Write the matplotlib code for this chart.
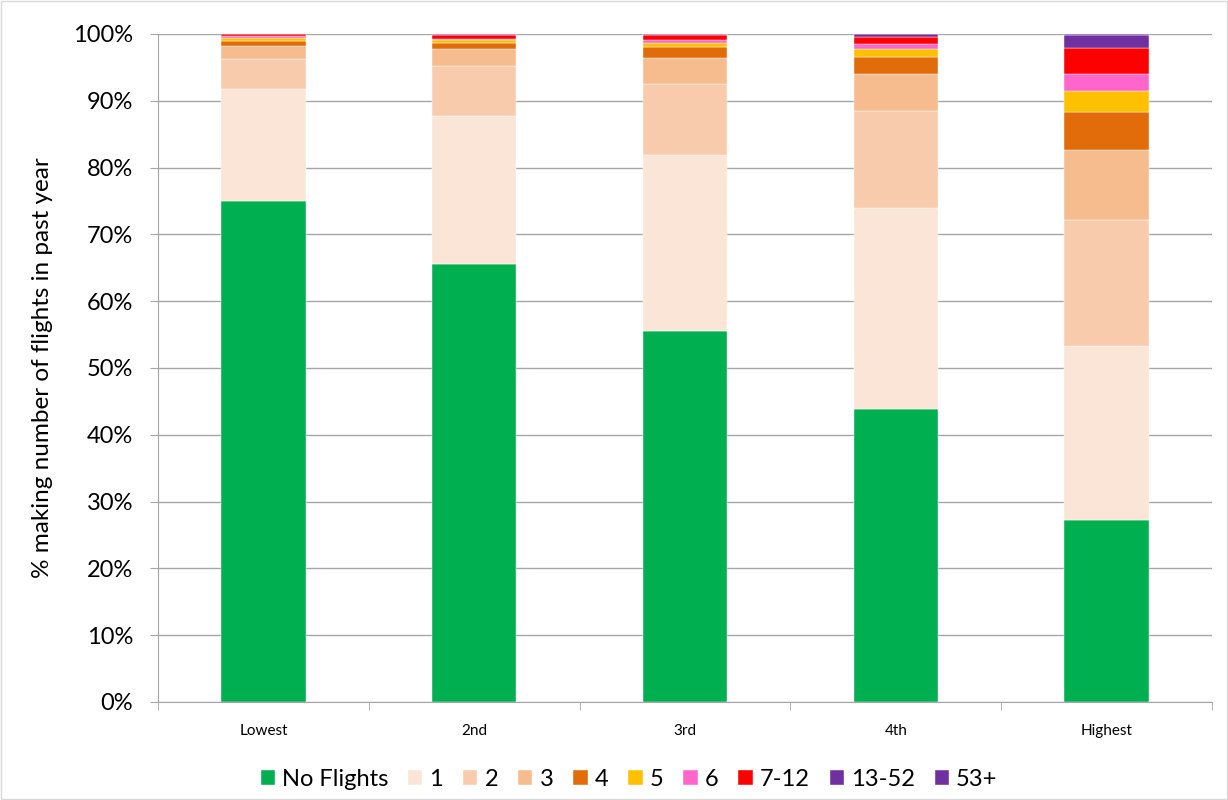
import matplotlib
matplotlib.use("Agg")
import matplotlib.pyplot as plt
import numpy as np
from matplotlib.ticker import FixedLocator, PercentFormatter

plt.rcParams['font.family'] = ['Lato', 'DejaVu Sans']

categories = ["Lowest", "2nd", "3rd", "4th", "Highest"]
series_names = ["No Flights", "1", "2", "3", "4", "5", "6", "7-12", "13-52", "53+"]
no_flights = [75.0, 65.6, 55.5, 43.9, 27.2]
one        = [16.7, 22.1, 26.4, 30.1, 26.1]
two        = [4.6, 7.5, 10.6, 14.5, 18.9]
three      = [1.9, 2.5, 3.9, 5.5, 10.4]
four       = [0.7, 0.9, 1.6, 2.55, 5.7]
five       = [0.5, 0.45, 0.65, 1.2, 3.2]
six        = [0.25, 0.15, 0.4, 0.75, 2.45]
seven_12   = [0.35, 0.6, 0.75, 1.05, 3.95]
thirteen_52 = [0.1, 0.2, 0.15, 0.45, 2.0]
fifty3     = [0.05, 0.05, 0.05, 0.05, 0.05]
values = [no_flights, one, two, three, four, five, six, seven_12, thirteen_52, fifty3]
colors = ["#00B050", "#FBE5D6", "#F8CBAD", "#F6BC8E", "#E36C0A",
          "#FFC000", "#FF66CC", "#FF0000", "#7030A0", "#7030A0"]

fig = plt.figure(figsize=(12.28, 8.0), dpi=100)
ax = fig.add_axes([158/1228, 1-702/800, (1212-158)/1228, (702-34)/800])

x = np.arange(len(categories))
bottom = np.zeros(len(categories))
for name, vals, c in zip(series_names, values, colors):
    ax.bar(x, vals, bottom=bottom, width=0.40, color=c, label=name,
           edgecolor='white', linewidth=0.3)
    bottom += np.array(vals)

ax.set_xlim(-0.5, len(categories) - 0.5)
ax.set_ylim(0, 100)
ax.yaxis.set_major_locator(FixedLocator(np.arange(0, 101, 10)))
ax.yaxis.set_major_formatter(PercentFormatter(decimals=0))
ax.grid(axis='y', color='#A6A6A6', linewidth=1.0)
ax.set_axisbelow(True)

ax.set_xticks(x)
ax.set_xticklabels(categories, fontsize=11)
ax.tick_params(axis='x', length=0, pad=16)
ax.set_xticks(np.arange(-0.5, len(categories)), minor=True)
ax.tick_params(axis='x', which='minor', length=6, color='#A6A6A6')
ax.tick_params(axis='y', labelsize=17, length=6, color='#A6A6A6', pad=12)

for s in ['top', 'right']:
    ax.spines[s].set_visible(False)
ax.spines['left'].set_color('#A6A6A6')
ax.spines['bottom'].set_color('#A6A6A6')

ax.set_ylabel("% making number of flights in past year", fontsize=17.5, labelpad=14)

leg = fig.legend(loc='center', bbox_to_anchor=(629/1228, 1-779/800), ncol=10, frameon=False,
                 fontsize=17, handlelength=0.6, handleheight=0.6, handletextpad=0.3,
                 columnspacing=0.85)

fig.patches.append(plt.Rectangle((0.001, 0.001), 0.998, 0.998, transform=fig.transFigure,
                                 fill=False, edgecolor='#D9D9D9', linewidth=1))

fig.savefig("out.png", dpi=100)
